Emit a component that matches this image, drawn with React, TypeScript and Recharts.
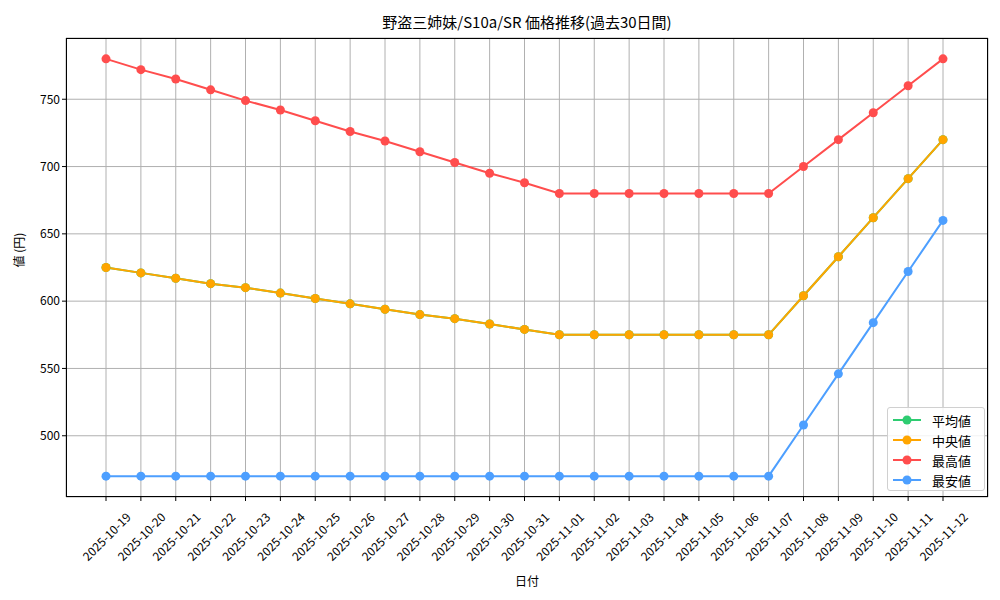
import React from 'react'
import { LineChart, Line, XAxis, YAxis, CartesianGrid } from 'recharts'

const dates = [
    '2025-10-19', '2025-10-20', '2025-10-21', '2025-10-22', '2025-10-23', '2025-10-24', '2025-10-25',
    '2025-10-26', '2025-10-27', '2025-10-28', '2025-10-29', '2025-10-30', '2025-10-31', '2025-11-01',
    '2025-11-02', '2025-11-03', '2025-11-04', '2025-11-05', '2025-11-06', '2025-11-07', '2025-11-08',
    '2025-11-09', '2025-11-10', '2025-11-11', '2025-11-12',
]

const avgPrices = [625, 621, 617, 613, 610, 606, 602, 598, 594, 590, 587, 583, 579, 575, 575, 575, 575, 575, 575, 575, 604, 633, 662, 691, 720]
const medianPrices = [625, 621, 617, 613, 610, 606, 602, 598, 594, 590, 587, 583, 579, 575, 575, 575, 575, 575, 575, 575, 604, 633, 662, 691, 720]
const maxPrices = [780, 772, 765, 757, 749, 742, 734, 726, 719, 711, 703, 695, 688, 680, 680, 680, 680, 680, 680, 680, 700, 720, 740, 760, 780]
const minPrices = [470, 470, 470, 470, 470, 470, 470, 470, 470, 470, 470, 470, 470, 470, 470, 470, 470, 470, 470, 470, 508, 546, 584, 622, 660]

const yTicks = [500, 550, 600, 650, 700, 750]

const FONT = '"Noto Sans CJK JP", "Noto Sans", sans-serif'

const series = [
    { key: 'avg', name: '平均値', color: '#2ecc71' },
    { key: 'median', name: '中央値', color: '#ffa500' },
    { key: 'max', name: '最高値', color: '#ff4d4d' },
    { key: 'min', name: '最安値', color: '#4d9fff' },
]

const data = dates.map((d, i) => ({
    date: d,
    avg: avgPrices[i],
    median: medianPrices[i],
    max: maxPrices[i],
    min: minPrices[i],
}))

// plot box: left 66, top 38, right 988, bottom 497
function DateTick({ x, y, payload }: any) {
    const cy = y + 33
    return (
        <text
            x={x}
            y={cy}
            textAnchor="middle"
            dominantBaseline="central"
            fontSize={12}
            fontFamily={FONT}
            fill="#000"
            transform={`rotate(-45, ${x}, ${cy})`}
        >
            {payload.value}
        </text>
    )
}

function LegendBox() {
    return (
        <div style={{
            position: 'absolute', left: 887, top: 407, width: 98, height: 84,
            background: 'rgba(255,255,255,0.85)', border: '1px solid #d0d0d0',
            borderRadius: 3, boxSizing: 'border-box', paddingTop: 2, fontSize: 13,
        }}>
            {series.map(s => (
                <div key={s.key} style={{ display: 'flex', alignItems: 'center', height: 20 }}>
                    <svg width={38} height={20}>
                        <line x1={5} y1={10} x2={33} y2={10} stroke={s.color} strokeWidth={2} />
                        <circle cx={19} cy={10} r={4.5} fill={s.color} />
                    </svg>
                    <span style={{ marginLeft: 6, color: '#000' }}>{s.name}</span>
                </div>
            ))}
        </div>
    )
}

export default function App() {
    return (
        <div style={{ position: 'relative', width: 1000, height: 600, background: '#fff', fontFamily: FONT }}>
            <style>{'body{margin:0}'}</style>
            <div style={{
                position: 'absolute', top: 12, left: 66, width: 922, textAlign: 'center',
                fontSize: 15, color: '#000', lineHeight: '20px',
            }}>
                野盗三姉妹/S10a/SR 価格推移(過去30日間)
            </div>
            <LineChart width={1000} height={600} data={data} margin={{ top: 38, right: 12, bottom: 0, left: 0 }}>
                <CartesianGrid stroke="#b0b0b0" strokeWidth={1} />
                <XAxis
                    dataKey="date"
                    interval={0}
                    padding={{ left: 40, right: 45 }}
                    height={103}
                    tick={<DateTick />}
                    tickSize={4}
                    tickLine={{ stroke: '#000' }}
                    axisLine={false}
                    label={{ value: '日付', position: 'insideBottom', offset: 14, fontSize: 12, fill: '#000', fontFamily: FONT }}
                />
                <YAxis
                    domain={[454.5, 795.5]}
                    ticks={yTicks}
                    allowDataOverflow
                    width={66}
                    tickSize={4}
                    tick={{ fontSize: 12, fill: '#000', fontFamily: FONT }}
                    tickLine={{ stroke: '#000' }}
                    axisLine={false}
                    label={{ value: '値 (円)', angle: -90, position: 'insideLeft', offset: 20, fontSize: 12, fill: '#000', fontFamily: FONT }}
                />
                {series.map(s => (
                    <Line
                        key={s.key}
                        dataKey={s.key}
                        name={s.name}
                        stroke={s.color}
                        strokeWidth={2}
                        dot={{ r: 4.5, fill: s.color, stroke: s.color, strokeWidth: 0 }}
                        activeDot={false}
                        isAnimationActive={false}
                    />
                ))}
            </LineChart>
            <div style={{
                position: 'absolute', left: 66, top: 38, width: 922, height: 459,
                border: '1px solid #000', boxSizing: 'border-box', pointerEvents: 'none',
            }} />
            <LegendBox />
        </div>
    )
}
